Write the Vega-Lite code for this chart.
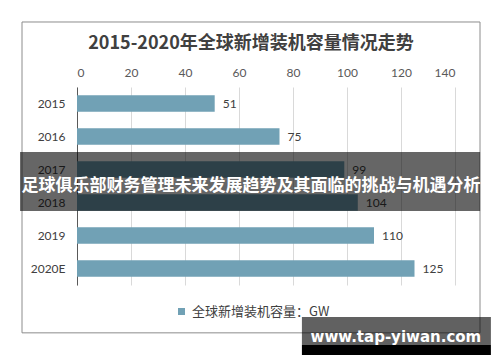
{
  "$schema": "https://vega.github.io/schema/vega-lite/v6.json",
  "width": 378,
  "height": 198,
  "autosize": {"type": "none"},
  "padding": {"left": 77, "top": 87, "right": 45, "bottom": 77},
  "background": "white",
  "title": {
    "text": "2015-2020年全球新增装机容量情况走势",
    "font": "Noto Sans CJK SC",
    "fontSize": 18,
    "fontWeight": "bold",
    "color": "#404040",
    "anchor": "middle",
    "dx": -15,
    "offset": -32
  },
  "config": {"view": {"stroke": null}, "font": "Lato"},
  "resolve": {"scale": {"y": "independent"}},
  "layer": [
    {
      "data": {"values": [
        {"year": "2015", "value": 51, "series": "全球新增装机容量：GW"},
        {"year": "2016", "value": 75, "series": "全球新增装机容量：GW"},
        {"year": "2017", "value": 99, "series": "全球新增装机容量：GW"},
        {"year": "2018", "value": 104, "series": "全球新增装机容量：GW"},
        {"year": "2019", "value": 110, "series": "全球新增装机容量：GW"},
        {"year": "2020E", "value": 125, "series": "全球新增装机容量：GW"}
      ]},
      "encoding": {
        "y": {"field": "year", "type": "nominal", "sort": null,
          "scale": {"paddingInner": 0.5, "paddingOuter": 0.25},
          "axis": {"title": null, "domain": true, "domainColor": "#595959", "ticks": false, "labelPadding": 12, "labelFontSize": 12, "labelColor": "#404040", "labelFont": "Lato"}},
        "x": {"field": "value", "type": "quantitative",
          "scale": {"domain": [0, 140], "nice": false, "zero": false},
          "axis": {"orient": "top", "title": null, "values": [0, 20, 40, 60, 80, 100, 120, 140], "grid": true, "gridColor": "#d9d9d9", "domain": false, "ticks": false, "labelPadding": 8, "labelFontSize": 12, "labelColor": "#595959", "labelFont": "Lato"}}
      },
      "layer": [
        {
          "mark": {"type": "bar"},
          "encoding": {
            "color": {"field": "series", "type": "nominal",
              "scale": {"domain": ["全球新增装机容量：GW"], "range": ["#71a1b5"]},
              "legend": {"orient": "none", "legendX": 98, "legendY": 218, "title": null, "symbolType": "square", "symbolSize": 49, "labelFontSize": 13, "labelFont": "Noto Sans CJK SC", "labelColor": "#404040", "symbolStrokeWidth": 0}}
          }
        },
        {
          "mark": {"type": "text", "align": "left", "baseline": "middle", "dx": 8, "fontSize": 12, "color": "#404040", "font": "Lato"},
          "encoding": {"text": {"field": "value", "type": "quantitative"}}
        }
      ]
    },
    {
      "data": {"values": [{"x1": -20.37, "x2": 149.26, "y1": -1.97, "y2": 7.45}]},
      "mark": {"type": "rect", "fill": "transparent", "stroke": "#8c8c8c", "strokeWidth": 1},
      "encoding": {
        "x": {"field": "x1", "type": "quantitative", "scale": {"domain": [0, 140], "nice": false, "zero": false}},
        "x2": {"field": "x2"},
        "y": {"field": "y1", "type": "quantitative", "scale": {"domain": [0, 6], "reverse": true, "nice": false, "zero": false}, "axis": null},
        "y2": {"field": "y2"}
      }
    },
    {
      "data": {"values": [{"x1": -21.1, "x2": 149.3, "y1": 1.97, "y2": 3.76}]},
      "mark": {"type": "rect", "color": "black", "opacity": 0.6},
      "encoding": {
        "x": {"field": "x1", "type": "quantitative", "scale": {"domain": [0, 140], "nice": false, "zero": false}},
        "x2": {"field": "x2"},
        "y": {"field": "y1", "type": "quantitative", "scale": {"domain": [0, 6], "reverse": true, "nice": false, "zero": false}, "axis": null},
        "y2": {"field": "y2"}
      }
    },
    {
      "data": {"values": [{"x": 64.4, "y": 3.0, "t": "足球俱乐部财务管理未来发展趋势及其面临的挑战与机遇分析"}]},
      "mark": {"type": "text", "align": "center", "baseline": "middle", "font": "Noto Sans CJK SC", "fontWeight": "bold", "fontSize": 17, "color": "white"},
      "encoding": {
        "x": {"field": "x", "type": "quantitative", "scale": {"domain": [0, 140], "nice": false, "zero": false}},
        "y": {"field": "y", "type": "quantitative", "scale": {"domain": [0, 6], "reverse": true, "nice": false, "zero": false}, "axis": null},
        "text": {"field": "t"}
      }
    },
    {
      "data": {"values": [
        {"x1": 83.3, "x2": 153.3, "y1": 6.97, "y2": 7.82, "o": 0.62},
        {"x1": 83.3, "x2": 153.3, "y1": 7.82, "y2": 8.12, "o": 1}
      ]},
      "mark": {"type": "rect", "color": "black"},
      "encoding": {
        "x": {"field": "x1", "type": "quantitative", "scale": {"domain": [0, 140], "nice": false, "zero": false}},
        "x2": {"field": "x2"},
        "y": {"field": "y1", "type": "quantitative", "scale": {"domain": [0, 6], "reverse": true, "nice": false, "zero": false}, "axis": null},
        "y2": {"field": "y2"},
        "opacity": {"field": "o", "type": "quantitative", "scale": null, "legend": null}
      }
    },
    {
      "data": {"values": [{"x": 118.1, "y": 7.58, "t": "www.tap-yiwan.com"}]},
      "mark": {"type": "text", "align": "center", "baseline": "middle", "font": "DejaVu Sans", "fontWeight": "bold", "fontSize": 15, "color": "white"},
      "encoding": {
        "x": {"field": "x", "type": "quantitative", "scale": {"domain": [0, 140], "nice": false, "zero": false}},
        "y": {"field": "y", "type": "quantitative", "scale": {"domain": [0, 6], "reverse": true, "nice": false, "zero": false}, "axis": null},
        "text": {"field": "t"}
      }
    }
  ]
}
